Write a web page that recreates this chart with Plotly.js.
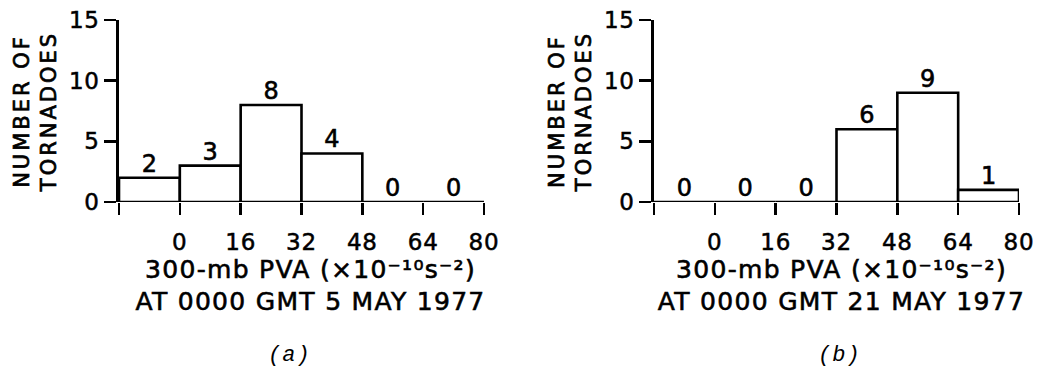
<!DOCTYPE html>
<html>
<head>
<meta charset="utf-8">
<script src="https://cdn.plot.ly/plotly-3.0.1.min.js"></script>
<style>
  html, body { margin: 0; padding: 0; background: #fff; }
  #chart { width: 1041px; height: 371px; }
  text.xtitle { letter-spacing: 1.3px; stroke: #000; stroke-width: 0.6px; transform: translate(9px, 0px); }
  text.x2title { letter-spacing: 1.3px; stroke: #000; stroke-width: 0.6px; transform: translate(5px, 0px); }
  text.ytitle, text.y2title { letter-spacing: 3px; stroke: #000; stroke-width: 0.7px; }
  g.xtick text, g.x2tick text, g.ytick text, g.y2tick text { letter-spacing: 0.8px; stroke: #000; stroke-width: 0.5px; }
  g.textpoint text { stroke: #000; stroke-width: 0.6px; }
  text.annotation-text { letter-spacing: 1px; }
</style>
</head>
<body>
<div id="chart"></div>
<script>
// ---- data ----
const binEdges = [-16, 0, 16, 32, 48, 64, 80];
const countsA = [2, 3, 8, 4, 0, 0];   // (a) 0000 GMT 5 May 1977
const countsB = [0, 0, 0, 6, 9, 1];   // (b) 0000 GMT 21 May 1977
const xTickVals = [0, 16, 32, 48, 64, 80];
const xTickText = ['0', '16', '32', '48', '64', '80'];
const yTickVals = [0, 5, 10, 15];
const yTitle = 'NUMBER OF<br>TORNADOES';
const xTitleLine1 = '300-mb PVA (×10⁻¹⁰s⁻²)';
const xTitleA = 'AT 0000 GMT 5 MAY 1977';
const xTitleB = 'AT 0000 GMT 21 MAY 1977';
const panelLabels = ['(a)', '(b)'];

// ---- derived ----
const centers = binEdges.slice(0, -1).map((e, i) => (e + binEdges[i + 1]) / 2);
const widths = binEdges.slice(0, -1).map((e, i) => binEdges[i + 1] - e);

const FONT = 'DejaVu Sans, sans-serif';
const W = 1041, H = 371;

function barTrace(counts, xa, ya) {
  return {
    type: 'bar', x: centers, y: counts, width: widths,
    xaxis: xa, yaxis: ya,
    marker: { color: '#ffffff', line: { color: '#000000', width: 2.6 } },
    hoverinfo: 'x+y', showlegend: false
  };
}
function labelTrace(counts, xa, ya) {
  return {
    type: 'scatter', mode: 'text', x: centers, y: counts,
    text: counts.map(String), textposition: 'top center',
    textfont: { family: FONT, size: 24, color: '#000' },
    xaxis: xa, yaxis: ya, hoverinfo: 'skip', showlegend: false, cliponaxis: false
  };
}

function xAxis(domain, anchor, title) {
  return {
    domain: domain, anchor: anchor, range: [binEdges[0], binEdges[binEdges.length - 1]],
    showgrid: false, zeroline: false, showline: false,
    ticks: 'outside', ticklen: 12, tickwidth: 2.6, tickcolor: '#000',
    tickmode: 'array', tickvals: xTickVals, ticktext: xTickText, ticklabelstandoff: 7,
    tickfont: { family: FONT, size: 23, color: '#000' },
    minor: { tickmode: 'array', tickvals: [binEdges[0]], ticks: 'outside', ticklen: 12, tickwidth: 2.6, tickcolor: '#000', showgrid: false },
    title: { text: xTitleLine1 + '<br>' + title, font: { family: FONT, size: 25, color: '#000' }, standoff: 3 },
    fixedrange: true
  };
}
function yAxis(domain, anchor) {
  return {
    domain: domain, anchor: anchor, range: [0, 15],
    showgrid: false, zeroline: false, showline: true, linecolor: '#000', linewidth: 2.6,
    ticks: 'outside', ticklen: 12, tickwidth: 2.6, tickcolor: '#000',
    tickvals: yTickVals, tickfont: { family: FONT, size: 23, color: '#000' },
    title: { text: yTitle, font: { family: FONT, size: 21, color: '#000' }, standoff: 7 },
    fixedrange: true
  };
}

const yDom = [1 - 202 / H, 1 - 20 / H];
const annFont = { family: 'Liberation Mono, Courier New, monospace', size: 22, style: 'italic', color: '#000' };
const layout = {
  width: W, height: H,
  margin: { l: 0, r: 0, t: 0, b: 0 },
  paper_bgcolor: '#fff', plot_bgcolor: 'rgba(0,0,0,0)',
  showlegend: false, bargap: 0,
  xaxis: xAxis([119 / W, 484 / W], 'y', xTitleA),
  yaxis: yAxis(yDom, 'x'),
  xaxis2: xAxis([654 / W, 1019 / W], 'y2', xTitleB),
  yaxis2: yAxis(yDom, 'x2'),
  annotations: [
    { text: panelLabels[0], xref: 'paper', yref: 'paper', x: 289 / W, y: 1 - 355 / H,
      xanchor: 'center', yanchor: 'middle', showarrow: false, font: annFont },
    { text: panelLabels[1], xref: 'paper', yref: 'paper', x: 839 / W, y: 1 - 355 / H,
      xanchor: 'center', yanchor: 'middle', showarrow: false, font: annFont }
  ]
};

const data = [
  barTrace(countsA, 'x', 'y'), labelTrace(countsA, 'x', 'y'),
  barTrace(countsB, 'x2', 'y2'), labelTrace(countsB, 'x2', 'y2')
];
Plotly.newPlot('chart', data, layout, { displayModeBar: false, staticPlot: true });
</script>
</body>
</html>
